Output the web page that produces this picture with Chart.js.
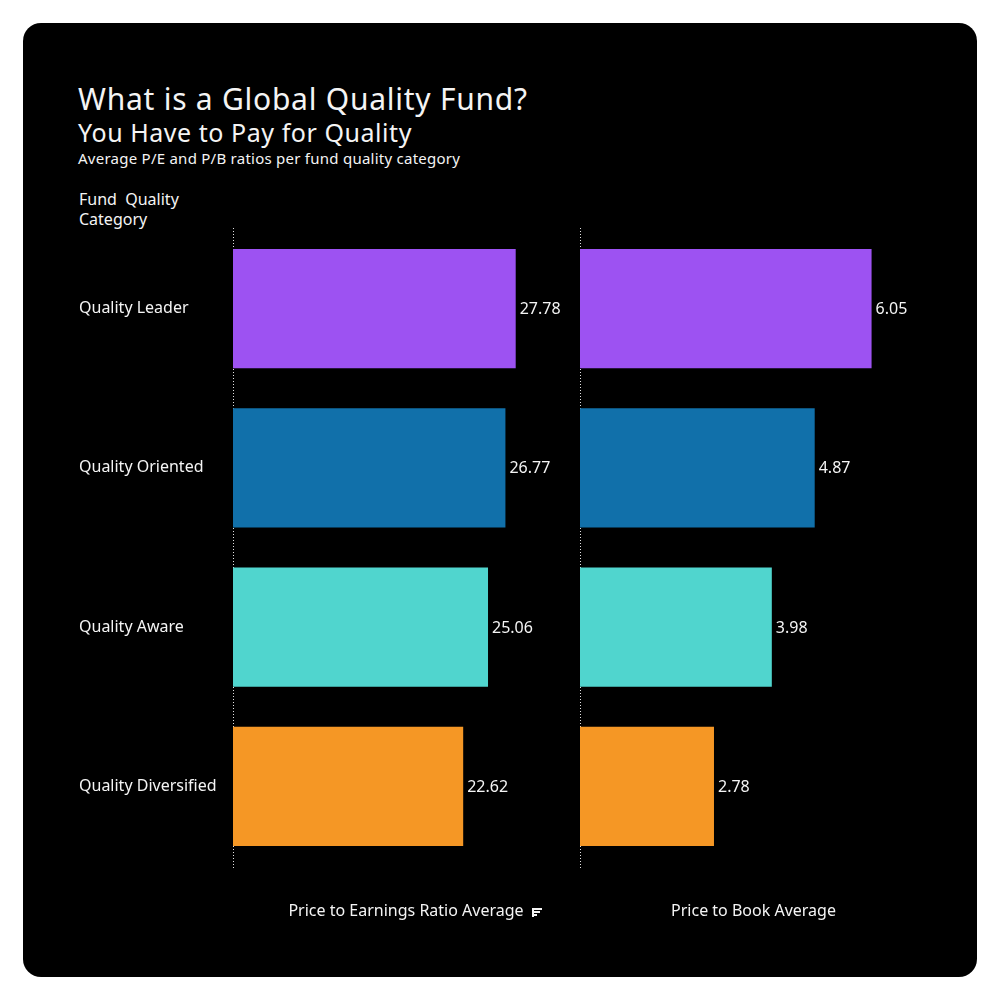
<!DOCTYPE html>
<html>
<head>
<meta charset="utf-8">
<script src="https://cdn.jsdelivr.net/npm/chart.js@4.4.0/dist/chart.umd.min.js"></script>
<style>
  html, body { margin: 0; padding: 0; background: #ffffff; }
  body { width: 1000px; height: 1000px; position: relative; font-family: "Noto Sans", sans-serif; }
  #panel { position: absolute; left: 23px; top: 23px; width: 954px; height: 954px; background: #000000; border-radius: 18px; overflow: hidden; }
  .txt { position: absolute; color: #f4f4f4; white-space: pre; line-height: 1; }
  canvas { position: absolute; left: 0; top: 0; }
</style>
</head>
<body>
<div id="panel">
  <div class="txt" style="left:55px; top:61px; font-size:30px; letter-spacing:0.75px;">What is a Global Quality Fund?</div>
  <div class="txt" style="left:55px; top:97px; font-size:25px; letter-spacing:0.55px;">You Have to Pay for Quality</div>
  <div class="txt" style="left:55px; top:128px; font-size:15px; letter-spacing:0.25px;">Average P/E and P/B ratios per fund quality category</div>
  <div class="txt" style="left:56px; top:168px; font-size:16px;">Fund  Quality</div>
  <div class="txt" style="left:56px; top:188px; font-size:16px;">Category</div>
  <canvas id="pe" width="954" height="954"></canvas>
  <canvas id="pb" width="954" height="954"></canvas>
</div>
<script>
const categories = ['Quality Leader', 'Quality Oriented', 'Quality Aware', 'Quality Diversified'];
const peValues = [27.78, 26.77, 25.06, 22.62];
const pbValues = [6.05, 4.87, 3.98, 2.78];
const barColors = ['#9d52f2', '#1170aa', '#50d5ce', '#f59725'];
const axisTitles = ['Price to Earnings Ratio Average', 'Price to Book Average'];
const axisMax = [34, 7.2];

const textColor = '#f4f4f4';
const fontFamily = '"Noto Sans", sans-serif';

// value label at the end of every bar
const valueLabels = {
    id: 'valueLabels',
    afterDatasetsDraw(chart) {
        const ctx = chart.ctx;
        const meta = chart.getDatasetMeta(0);
        const values = chart.data.datasets[0].data;
        ctx.save();
        ctx.font = '16px ' + fontFamily;
        ctx.fillStyle = textColor;
        ctx.textBaseline = 'middle';
        ctx.textAlign = 'left';
        meta.data.forEach((bar, i) => {
            ctx.fillText(values[i].toFixed(2), bar.x + 4, bar.y + 1);
        });
        ctx.restore();
    }
};

// dotted zero line along the left edge of the plot (behind the bars)
const zeroLine = {
    id: 'zeroLine',
    beforeDatasetsDraw(chart) {
        const ctx = chart.ctx;
        const area = chart.chartArea;
        const x = Math.round(area.left) + 0.5;
        ctx.save();
        ctx.strokeStyle = '#e0e0e0';
        ctx.lineWidth = 1;
        ctx.setLineDash([1, 2]);
        ctx.beginPath();
        ctx.moveTo(x, area.top - 1);
        ctx.lineTo(x, area.bottom + 2);
        ctx.stroke();
        ctx.restore();
    }
};

// little sort icon next to the first axis title
const sortIcon = {
    id: 'sortIcon',
    afterDraw(chart, args, opts) {
        if (!opts.show) return;
        const ctx = chart.ctx;
        const x = chart.scales.x;
        ctx.save();
        ctx.font = '16px ' + fontFamily;
        const w = ctx.measureText(x.options.title.text).width;
        const cx = Math.round((x.left + x.right) / 2 + w / 2 + 8);
        const cy = Math.round(x.bottom - 19.2 / 2 - 4);
        ctx.fillStyle = textColor;
        ctx.fillRect(cx, cy, 10, 2);
        ctx.fillRect(cx, cy + 3, 8, 2);
        ctx.fillRect(cx, cy + 6, 5, 2);
        ctx.fillRect(cx, cy, 2, 9);
        ctx.restore();
    }
};

function makeChart(id, values, idx, showLabels, pad) {
    const ctx = document.getElementById(id).getContext('2d');
    const config = {
        type: 'bar',
        data: {
            labels: categories,
            datasets: [{
                data: values,
                backgroundColor: barColors,
                barPercentage: 0.75,
                categoryPercentage: 1.0
            }]
        },
        options: {
            responsive: false,
            animation: false,
            indexAxis: 'y',
            layout: { padding: pad },
            plugins: {
                legend: { display: false },
                tooltip: { enabled: false },
                sortIcon: { show: idx === 0 }
            },
            scales: {
                x: {
                    min: 0,
                    max: axisMax[idx],
                    ticks: { display: false },
                    grid: { display: false, drawTicks: false },
                    border: { display: false },
                    title: {
                        display: true,
                        text: axisTitles[idx],
                        color: textColor,
                        font: { family: fontFamily, size: 16, lineHeight: 1.2 },
                        padding: { top: 36, bottom: 0 }
                    }
                },
                y: {
                    ticks: {
                        display: showLabels,
                        crossAlign: 'far',
                        color: textColor,
                        font: { family: fontFamily, size: 16 }
                    },
                    grid: { display: false, drawTicks: false },
                    border: { display: false },
                    afterFit(scale) { scale.width = showLabels ? 154 : 0; }
                }
            }
        },
        plugins: [valueLabels, zeroLine, sortIcon]
    };
    return new Chart(ctx, config);
}

var peChart = makeChart('pe', peValues, 0, true, { left: 56, right: 398, top: 206, bottom: 55.8 });
var pbChart = makeChart('pb', pbValues, 1, false, { left: 557, right: 50, top: 206, bottom: 55.8 });
</script>
</body>
</html>
